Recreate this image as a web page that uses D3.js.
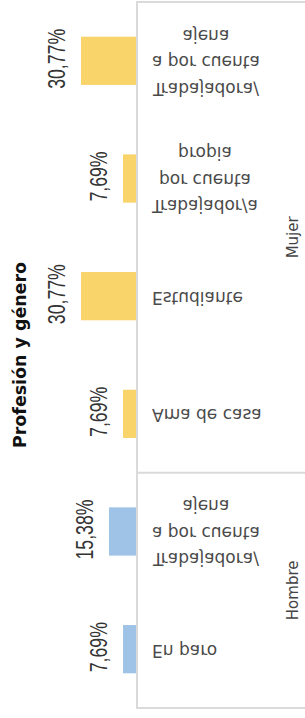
<!DOCTYPE html>
<html><head><meta charset="utf-8">
<script src="https://cdn.jsdelivr.net/npm/d3@7"></script>
<style>html,body{margin:0;padding:0;background:#fff;overflow:hidden}</style>
</head><body><svg id="chart" width="305" height="718"></svg>
<script>
const genders = ["Mujer","Mujer","Mujer","Mujer","Hombre","Hombre"];
const categories = [
  ["Trabajadora/","a por cuenta","ajena"],
  ["Trabajador/a","por cuenta","propia"],
  ["Estudiante"],
  ["Ama de casa"],
  ["Trabajadora/","a por cuenta","ajena"],
  ["En paro"]
];
const values = [30.77, 7.69, 30.77, 7.69, 15.38, 7.69];
const genderOrder = ["Mujer","Hombre"];
const genderColors = ["#f9d46b", "#9fc3e6"];
const title = "Profesión y género";

const svg = d3.select("#chart");
const axisX = 137, panelTop = 2, panelBottom = 708;

const idx = d3.range(values.length);
const x = d3.scaleLinear().domain([0, d3.max(values)]).range([axisX, 81]);
const y = d3.scaleBand().domain(idx).range([panelTop, panelBottom]).paddingInner(0.59).paddingOuter(0.295);
const color = d3.scaleOrdinal().domain(genderOrder).range(genderColors);
const fmt = v => d3.format(".2f")(v).replace(".", ",") + "%";

// bars
svg.append("g").selectAll("rect").data(idx).join("rect")
  .attr("x", i => x(values[i]))
  .attr("y", i => y(i))
  .attr("width", i => axisX - x(values[i]))
  .attr("height", y.bandwidth())
  .attr("fill", i => color(genders[i]));

// panel border and divider
svg.append("rect")
  .attr("x", axisX).attr("y", panelTop)
  .attr("width", 400).attr("height", panelBottom - panelTop)
  .attr("fill", "none").attr("stroke", "#dadada").attr("stroke-width", 2);

genderOrder.forEach((g, gi) => {
  const ids = idx.filter(i => genders[i] === g);
  const first = ids[0], last = ids[ids.length - 1];
  if (gi > 0) {
    const prevLast = first - 1;
    const by = (y(prevLast) + y.bandwidth() + y(first)) / 2;
    svg.append("line").attr("x1", axisX).attr("x2", 320)
      .attr("y1", by).attr("y2", by)
      .attr("stroke", "#dadada").attr("stroke-width", 2);
  }
  const cy = (y(first) + y(last) + y.bandwidth()) / 2;
  svg.append("text")
    .attr("transform", `translate(298,${cy}) rotate(-90)`)
    .attr("text-anchor", "middle")
    .attr("font-family", "DejaVu Sans, sans-serif")
    .attr("font-size", 15)
    .attr("fill", "#444")
    .text(g);
});

// value labels
svg.append("g").selectAll("text").data(idx).join("text")
  .attr("transform", i => `translate(${x(values[i]) - 16},${y(i) + y.bandwidth() / 2 - 2}) rotate(-90) scale(0.77,1)`)
  .attr("text-anchor", "middle")
  .attr("font-family", "Liberation Sans, Arial, sans-serif")
  .attr("font-size", 23)
  .attr("fill", "#333")
  .text(i => fmt(values[i]));

// category labels (flipped vertically)
const lineH = 26.5;
idx.forEach(i => {
  const lines = categories[i];
  const cy = y(i) + y.bandwidth() / 2;
  const g = svg.append("g").attr("transform", `translate(152,${cy}) scale(1,-1)`);
  const n = lines.length;
  const ts = g.selectAll("text").data(lines).join("text")
    .attr("y", (d, k) => (k - (n - 1) / 2) * lineH + 4.6)
    .attr("font-family", "DejaVu Sans, sans-serif")
    .attr("font-size", 17)
    .attr("fill", "#4a4a4a")
    .attr("text-anchor", "middle")
    .text(d => d);
  let W = 0;
  ts.each(function () { W = Math.max(W, this.getComputedTextLength()); });
  ts.attr("x", W / 2);
});

// title
svg.append("text")
  .attr("transform", `translate(26,${(panelTop + panelBottom) / 2}) rotate(-90)`)
  .attr("text-anchor", "middle")
  .attr("font-family", "DejaVu Sans, sans-serif")
  .attr("font-weight", "bold")
  .attr("font-size", 17)
  .attr("textLength", 186)
  .attr("lengthAdjust", "spacingAndGlyphs")
  .attr("fill", "#111")
  .text(title);
</script>
</body></html>
